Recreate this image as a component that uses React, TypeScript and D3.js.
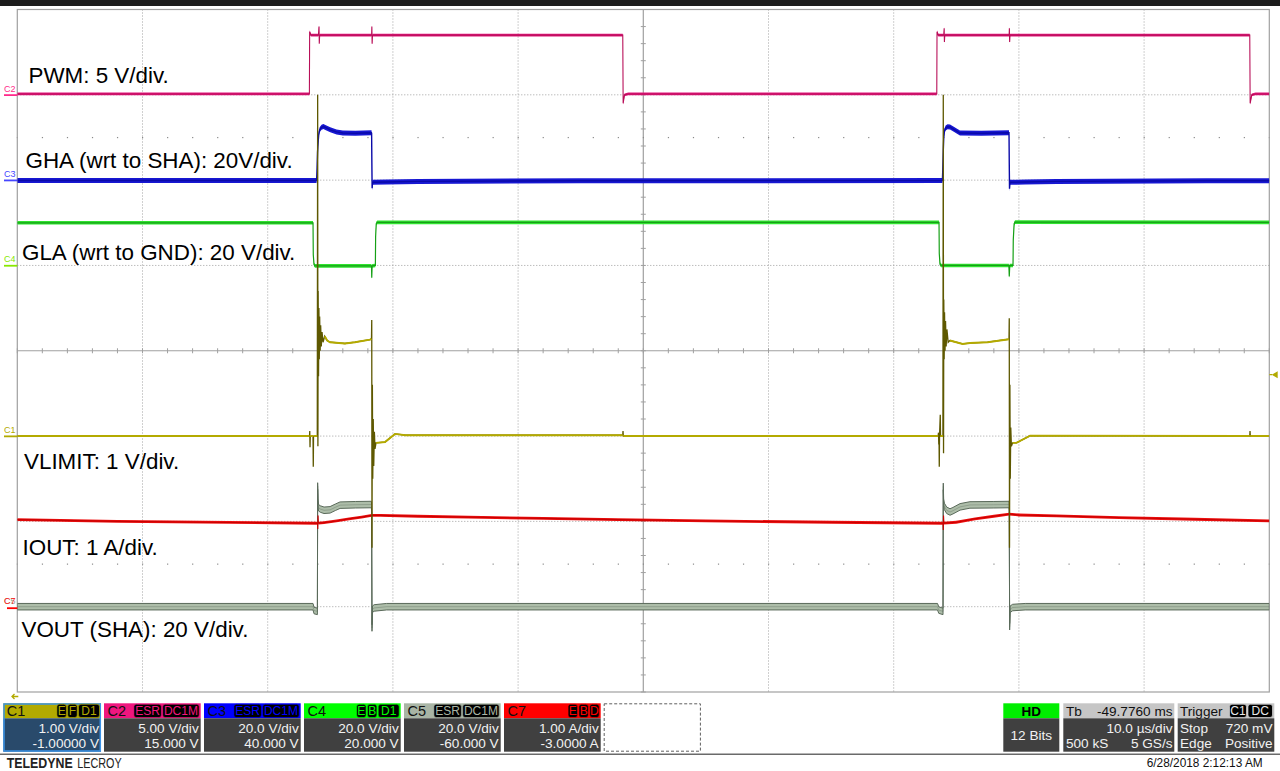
import React from 'react';
import * as d3 from 'd3';

type Pt = [number, number];

// ---------- acquisition settings (from the scope readout) ----------
const TIME_PER_DIV_US = 10;
const H_DIVS = 10;
const V_DIVS = 8;

// channel scale (V/div or A/div) and offset, per trace
const pwmScale = [5, 15];
const ghaScale = [20, 40];
const glaScale = [20, 20];
const vlimitScale = [1, -1];
const ioutScale = [1, -3];
const voutScale = [20, -60];

// ---------- waveform breakpoints: [time µs, value] ----------
const pwmPoints: Pt[] = [
  [0, 0.05], [23.33, 0.05], [23.35, 3.7], [23.45, 3.5], [24.05, 3.5], [24.1, 4.0], [24.12, 3.0], [24.15, 3.5],
  [28.3, 3.5], [28.32, 4.0], [28.34, 3.0], [28.37, 3.5], [48.36, 3.5], [48.39, -0.5], [48.5, 0.0], [48.8, 0.05],
  [73.44, 0.05], [73.46, 3.7], [73.56, 3.5], [74.0, 3.5], [74.03, 3.9], [74.05, 3.1], [74.08, 3.5],
  [79.22, 3.5], [79.24, 3.9], [79.26, 3.1], [79.29, 3.5], [98.44, 3.5], [98.47, -0.5], [98.6, 0.0], [98.9, 0.05], [100, 0.05],
];

const ghaPoints: Pt[] = [
  [0, -0.1], [23.9, -0.1], [23.93, 1.5], [23.98, 6.5], [24.03, 9.0], [24.08, 10.8], [24.15, 11.8], [24.3, 12.4],
  [24.45, 12.55], [24.65, 12.3], [25.0, 11.8], [25.5, 11.3], [26.0, 11.05], [27.0, 11.0], [28.28, 11.1],
  [28.3, 11.0], [28.32, 4.0], [28.34, -1.9], [28.38, -0.5], [29.5, -0.45], [32, -0.3], [45, -0.15],
  [73.89, -0.1], [73.92, 2.5], [73.96, 7.0], [74.0, 10.0], [74.05, 11.5], [74.15, 12.2], [74.3, 12.5],
  [74.5, 12.45], [74.8, 11.9], [75.29, 11.05], [77, 11.0], [79.21, 11.1], [79.23, 4.0], [79.25, -2.0],
  [79.29, -0.5], [80.5, -0.45], [83, -0.3], [95, -0.15], [100, -0.15],
];

const glaPoints: Pt[] = [
  [0, 10.0], [23.62, 10.0], [23.64, 2.5], [23.7, 0.2], [23.78, -0.1], [28.29, -0.1], [28.31, -2.9], [28.34, -0.1],
  [28.6, 0.0], [28.62, 6.8], [28.67, 9.8], [28.75, 10.1], [73.62, 10.1], [73.64, 2.8], [73.7, 0.3], [73.78, 0.0],
  [79.2, 0.0], [79.23, -2.6], [79.27, 0.0], [79.53, 0.0], [79.55, 6.0], [79.62, 9.8], [79.7, 10.15], [100, 10.1],
];

const vlimitPoints: Pt[] = [
  [0, 0.0], [23.34, 0.0], [23.36, 0.06], [23.38, -0.13], [23.4, 0.0], [23.62, 0.0], [23.64, -0.36], [23.66, 0.0],
  [23.96, 0.0], [23.99, 4.0], [24.01, -0.12], [24.03, 1.7], [24.06, 0.7], [24.09, 1.5], [24.12, 0.9], [24.15, 1.4],
  [24.19, 1.0], [24.23, 1.3], [24.28, 1.05], [24.34, 1.22], [24.42, 1.1], [24.55, 1.17], [24.75, 1.12], [24.98, 1.1],
  [26.17, 1.085], [26.97, 1.1], [28.17, 1.13], [28.29, 1.14], [28.31, 1.36], [28.33, -1.31], [28.36, 0.6],
  [28.39, -0.5], [28.43, 0.2], [28.47, -0.35], [28.52, 0.05], [28.57, -0.15], [28.65, -0.08], [29.37, -0.07],
  [30.17, 0.025], [31, 0.01], [48.36, 0.01], [48.38, 0.06], [48.4, 0.0], [73.55, 0.0], [73.58, 0.04], [73.6, -0.1],
  [73.62, 0.0], [73.64, -0.36], [73.66, 0.0], [73.72, 0.25], [73.74, 0.0], [73.93, 0.0], [73.96, 4.0], [73.98, -0.2],
  [74.0, 1.6], [74.03, 0.9], [74.06, 1.45], [74.1, 1.0], [74.14, 1.35], [74.19, 1.05], [74.25, 1.25], [74.35, 1.1],
  [74.49, 1.12], [75.5, 1.08], [76.09, 1.09], [77.5, 1.1], [79.21, 1.135], [79.23, 1.38], [79.25, -1.31],
  [79.28, 0.6], [79.31, -0.5], [79.35, 0.1], [79.4, -0.12], [79.5, -0.08], [79.8, -0.08], [80.9, 0.005],
  [98.44, 0.0], [98.46, 0.06], [98.48, 0.0], [100, 0.0],
];
// intervals (µs) where the VLIMIT trace is a fast burst (drawn darker)
const vlimitBursts: Pt[] = [
  [23.35, 23.395], [23.63, 23.65], [23.97, 24.5], [28.3, 28.6], [48.37, 48.39],
  [73.57, 73.61], [73.63, 73.65], [73.71, 73.73], [73.94, 74.4], [79.22, 79.45], [98.45, 98.47],
];

const ioutPoints: Pt[] = [
  [0, 1.02], [8, 1.0], [23.9, 0.978], [23.98, 0.98], [24.0, 0.91], [24.02, 1.07], [24.05, 0.98], [24.5, 0.985],
  [25.5, 1.005], [26.5, 1.03], [27.5, 1.05], [28.3, 1.07], [29, 1.07], [32, 1.06], [36, 1.05], [42, 1.035],
  [48, 1.02], [55, 1.005], [65, 0.99], [73.9, 0.978], [73.94, 0.98], [73.96, 0.9], [73.98, 1.07], [74.01, 0.98],
  [75, 0.99], [76.5, 1.03], [78, 1.06], [79.23, 1.086], [80, 1.075], [83, 1.065], [88, 1.045], [94, 1.025], [100, 1.005],
];

const voutPoints: Pt[] = [
  [0, 0.0], [23.62, 0.0], [23.7, -0.9], [23.97, -1.1], [23.99, 28.3], [24.02, 24.5], [24.06, 23.2], [24.2, 22.9],
  [24.5, 22.6], [24.98, 22.7], [25.4, 23.3], [25.78, 23.8], [27, 23.9], [28.28, 23.95], [28.3, 23.0], [28.33, -5.0],
  [28.37, -0.6], [28.5, -0.3], [29.5, 0.0], [73.5, 0.0], [73.6, -0.8], [73.94, -1.1], [73.96, 28.2], [73.99, 24.5],
  [74.05, 23.5], [74.23, 22.6], [74.5, 22.2], [74.73, 22.5], [75.3, 23.4], [76.09, 23.85], [78, 23.9], [79.21, 23.95],
  [79.23, 23.0], [79.26, -4.7], [79.3, -0.6], [79.5, -0.2], [80.5, 0.0], [100, 0.0],
];

// ---------- text ----------
const traceLabels = [
  'PWM: 5 V/div.',
  'GHA (wrt to SHA): 20V/div.',
  'GLA (wrt to GND): 20 V/div.',
  'VLIMIT: 1 V/div.',
  'IOUT: 1 A/div.',
  'VOUT (SHA): 20 V/div.',
];
const chanIds = ['C1', 'C2', 'C3', 'C4', 'C5', 'C7'];
const chanBadges = [['E', 'F', 'D1'], ['ESR', 'DC1M'], ['ESR', 'DC1M'], ['E', 'B', 'D1'], ['ESR', 'DC1M'], ['E', 'B', 'D']];
const chanScaleText = ['1.00 V/div', '5.00 V/div', '20.0 V/div', '20.0 V/div', '20.0 V/div', '1.00 A/div'];
const chanOffsetText = ['-1.00000 V', '15.000 V', '40.000 V', '20.000 V', '-60.000 V', '-3.0000 A'];
const tbText = ['Tb', '-49.7760 ms', '10.0 µs/div', '500 kS', '5 GS/s'];
const trigText = ['Trigger', 'C1', 'DC', 'Stop', '720 mV', 'Edge', 'Positive'];
const hdText = ['HD', '12 Bits'];
const brandText = ['TELEDYNE', 'LECROY'];
const dateText = '6/28/2018 2:12:13 AM';
const triggerLevelV = 0.72;

// ---------- layout / style ----------
const PLOT = { left: 17.3, right: 1269.3, top: 9.5, bottom: 692 };
const divW = (PLOT.right - PLOT.left) / H_DIVS;
const divH = (PLOT.bottom - PLOT.top) / V_DIVS;
const GRID = '#a0a0a0';
const FONT = "'Liberation Sans', Arial, Helvetica, sans-serif";
const chanColors = ['#b2aa00', '#f0167e', '#0000ff', '#00ff00', '#a9b5a5', '#ff0000'];

const xScale = d3.scaleLinear().domain([0, H_DIVS * TIME_PER_DIV_US]).range([PLOT.left, PLOT.right]);
const yFor = (s: number[]) =>
  d3.scaleLinear().domain([-s[1] - (V_DIVS / 2) * s[0], -s[1] + (V_DIVS / 2) * s[0]]).range([PLOT.bottom, PLOT.top]);

const yPwm = yFor(pwmScale);
const yGha = yFor(ghaScale);
const yGla = yFor(glaScale);
const yVl = yFor(vlimitScale);
const yIo = yFor(ioutScale);
const yVo = yFor(voutScale);

function Band({ pts, y, h, fill, stroke, sw, outline }: any) {
  const area = d3.area<Pt>().x((d) => xScale(d[0])).y0((d) => y(d[1]) + h / 2).y1((d) => y(d[1]) - h / 2);
  const line = d3.line<Pt>().x((d) => xScale(d[0])).y((d) => y(d[1]));
  return (
    <g>
      <path d={area(pts) || ''} fill={fill} stroke={outline ? stroke : 'none'} strokeWidth={outline ? 1 : 0} />
      {!outline && <path d={line(pts) || ''} fill="none" stroke={stroke} strokeWidth={sw} />}
      {outline && <path d={line(pts) || ''} fill="none" stroke={stroke} strokeWidth={0.6} opacity={0.6} />}
    </g>
  );
}

function Badge({ x, w, text, color }: any) {
  return (
    <g>
      <rect x={x} y={704.3} width={w} height={13.2} rx={2.5} fill="#000" stroke={color} strokeWidth={0.6} />
      <text x={x + w / 2} y={715.3} textAnchor="middle" fontSize={12} fill={color}>{text}</text>
    </g>
  );
}

export default function App() {
  const cx = xScale(50);
  const cy = PLOT.top + divH * 4;
  const line = d3.line<Pt>().x((d) => xScale(d[0])).y((d) => yVl(d[1]));
  const inBurst = (t: number) => vlimitBursts.some(([a, b]) => t > a && t < b);
  const quietLine = d3.line<Pt>().defined((d) => !inBurst(d[0])).x((d) => xScale(d[0])).y((d) => yVl(d[1]));

  const minorX = d3.range(0, H_DIVS * 5 + 1).map((k) => PLOT.left + (k * divW) / 5);
  const minorY = d3.range(0, V_DIVS * 5 + 1).map((k) => PLOT.top + (k * divH) / 5);

  const labelPos = [
    [28.5, 83], [25.5, 168], [22, 260], [24, 469], [22.5, 555], [21.5, 637],
  ];

  const markerDefs = [
    { t: 'C2', y: yPwm(0), c: '#ff2a8a' },
    { t: 'C3', y: yGha(0), c: '#4646ff' },
    { t: 'C4', y: yGla(0), c: '#88e800' },
    { t: 'C1', y: yVl(0), c: '#b2aa00' },
  ];

  const badgeW = (s: string) => (s.length === 1 ? 9.5 : s === 'D1' ? 21 : s === 'ESR' ? 27.5 : 36.5);

  return (
    <svg width={1280} height={771} style={{ position: 'absolute', left: 0, top: 0, background: '#fff' }} fontFamily={FONT}>
      <defs>
        <clipPath id="plotclip">
          <rect x={PLOT.left} y={PLOT.top} width={PLOT.right - PLOT.left} height={PLOT.bottom - PLOT.top} />
        </clipPath>
      </defs>
      <rect x={0} y={0} width={1280} height={771} fill="#fff" />
      <rect x={0} y={0} width={1280} height={6} fill="#1c1c1c" />

      {/* grid */}
      <g>
        {d3.range(1, H_DIVS).filter((k) => k !== 5).map((k) => (
          <line key={'v' + k} x1={xScale(k * TIME_PER_DIV_US)} x2={xScale(k * TIME_PER_DIV_US)} y1={PLOT.top} y2={PLOT.bottom}
            stroke={GRID} strokeWidth={1} strokeDasharray="1,2" />
        ))}
        {d3.range(1, V_DIVS).filter((k) => k !== 4).map((k) => (
          <line key={'h' + k} x1={PLOT.left} x2={PLOT.right} y1={PLOT.top + k * divH} y2={PLOT.top + k * divH}
            stroke={GRID} strokeWidth={1} strokeDasharray="1,2" />
        ))}
        <line x1={PLOT.left} x2={PLOT.right} y1={cy} y2={cy} stroke={GRID} strokeWidth={1.2} />
        <line x1={cx} x2={cx} y1={PLOT.top} y2={PLOT.bottom} stroke={GRID} strokeWidth={1.2} />
        {minorX.map((x, i) => (
          <line key={'tx' + i} x1={x} x2={x} y1={cy - 2.5} y2={cy + 2.5} stroke={GRID} strokeWidth={1} />
        ))}
        {minorY.map((y, i) => (
          <line key={'ty' + i} x1={cx - 2.5} x2={cx + 2.5} y1={y} y2={y} stroke={GRID} strokeWidth={1} />
        ))}
        {[1.5, 6.5].map((r) =>
          minorX.map((x, i) => (
            <rect key={'d' + r + i} x={x - 0.5} y={PLOT.top + r * divH - 0.5} width={1.2} height={1.2} fill="#8a8a8a" />
          ))
        )}
        <rect x={PLOT.left} y={PLOT.top} width={PLOT.right - PLOT.left} height={PLOT.bottom - PLOT.top}
          fill="none" stroke={GRID} strokeWidth={1.2} />
      </g>

      {/* labels */}
      {traceLabels.map((s, i) => (
        <text key={s} x={labelPos[i][0]} y={labelPos[i][1]} fontSize={22.4} fill="#000">{s}</text>
      ))}

      {/* traces */}
      <g clipPath="url(#plotclip)">
        <Band pts={pwmPoints} y={yPwm} h={2.8} fill="#e3177c" stroke="#b80f58" sw={1.1} />
        <Band pts={ghaPoints} y={yGha} h={5} fill="#1717d2" stroke="#0a0aa8" sw={1.4} />
        <Band pts={glaPoints} y={yGla} h={3.6} fill="#30e430" stroke="#16a016" sw={1.2} />
        <Band pts={voutPoints} y={yVo} h={6.5} fill="#adbda9" stroke="#5a6a5a" outline />
        <Band pts={ioutPoints} y={yIo} h={2.8} fill="#ee1010" stroke="#c80000" sw={1.1} />
        <path d={line(vlimitPoints) || ''} fill="none" stroke="#5e5800" strokeWidth={1.3} />
        <path d={quietLine(vlimitPoints) || ''} fill="none" stroke="#b4aa00" strokeWidth={1.9} />
      </g>

      {/* left channel markers */}
      {markerDefs.map((m) => (
        <g key={m.t}>
          <text x={4} y={m.y - 3} fontSize={9} fill={m.c}>{m.t}</text>
          <line x1={4} x2={PLOT.left} y1={m.y + 0.3} y2={m.y + 0.3} stroke={m.c} strokeWidth={1.8} />
        </g>
      ))}
      <g>
        <text x={4} y={yVo(0) - 2.5} fontSize={9} fill="#9aa89a">C5</text>
        <text x={4} y={yVo(0) - 2.5} fontSize={9} fill="#ff1a1a">C7</text>
        <line x1={7} x2={PLOT.left} y1={yVo(0) + 1.5} y2={yVo(0) + 1.5} stroke="#ff0000" strokeWidth={1.8} />
      </g>

      {/* bottom-left arrow */}
      <path d="M18.3,696.5 L12,696.5 M14.5,694 L12,696.5 L14.5,699" fill="none" stroke="#b2aa00" strokeWidth={1.3} />

      {/* trigger level marker */}
      <g>
        <line x1={PLOT.right} x2={1272} y1={yVl(triggerLevelV)} y2={yVl(triggerLevelV)} stroke="#b2aa00" strokeWidth={1.2} />
        <path d={`M1271.7,${yVl(triggerLevelV)} L1277.7,${yVl(triggerLevelV) - 3.5} L1277.7,${yVl(triggerLevelV) + 3.5} Z`} fill="#b2aa00" />
      </g>

      {/* channel readout boxes */}
      {chanIds.map((id, i) => {
        const x0 = i === 0 ? 3.3 : 4 + 100 * i;
        const w = i === 0 ? 97.7 : 96.7;
        const col = chanColors[i];
        let bx = x0 + w - 1.5;
        const badges = chanBadges[i].slice().reverse().map((b) => {
          const bw = badgeW(b);
          bx -= bw;
          const el = <Badge key={b + i} x={bx} w={bw} text={b} color={col} />;
          bx -= 1.3;
          return el;
        });
        return (
          <g key={id}>
            <rect x={x0} y={703.3} width={w} height={15} fill={col} />
            <rect x={x0} y={718.3} width={w} height={33.4} fill={i === 0 ? '#294a6b' : '#404040'} />
            {i === 0 && (
              <rect x={x0 + 0.7} y={704} width={w - 1.4} height={47} fill="none" stroke="#3a92e6" strokeWidth={1.5} />
            )}
            <text x={x0 + 3.5} y={716.2} fontSize={14.5} fill="#111">{id}</text>
            {badges}
            <text x={x0 + w - 2} y={732.6} fontSize={13.6} fill="#f2f2f2" textAnchor="end">{chanScaleText[i]}</text>
            <text x={x0 + w - 2} y={748.3} fontSize={13.6} fill="#f2f2f2" textAnchor="end">{chanOffsetText[i]}</text>
          </g>
        );
      })}
      <rect x={604.2} y={703.8} width={96.2} height={47.4} fill="none" stroke="#606060" strokeWidth={1} strokeDasharray="3,2" />

      {/* HD box */}
      <g>
        <rect x={1003.3} y={703.3} width={56} height={15} fill="#00ee00" />
        <rect x={1003.3} y={718.3} width={56} height={33.4} fill="#404040" />
        <text x={1031.3} y={715.8} fontSize={13.5} fontWeight="bold" textAnchor="middle" fill="#000">{hdText[0]}</text>
        <text x={1031.3} y={740} fontSize={13.6} textAnchor="middle" fill="#f2f2f2">{hdText[1]}</text>
      </g>
      {/* Timebase box */}
      <g>
        <rect x={1063.3} y={703.3} width={111} height={15} fill="#c6c6c6" />
        <rect x={1063.3} y={718.3} width={111} height={33.4} fill="#404040" />
        <text x={1066} y={716} fontSize={13.6} fill="#111">{tbText[0]}</text>
        <text x={1172.5} y={716} fontSize={13.6} fill="#111" textAnchor="end">{tbText[1]}</text>
        <text x={1172.5} y={732.6} fontSize={13.6} fill="#f2f2f2" textAnchor="end">{tbText[2]}</text>
        <text x={1066} y={748.3} fontSize={13.6} fill="#f2f2f2">{tbText[3]}</text>
        <text x={1172.5} y={748.3} fontSize={13.6} fill="#f2f2f2" textAnchor="end">{tbText[4]}</text>
      </g>
      {/* Trigger box */}
      <g>
        <rect x={1177.7} y={703.3} width={96.6} height={15} fill="#c6c6c6" />
        <rect x={1177.7} y={718.3} width={96.6} height={33.4} fill="#404040" />
        <text x={1180} y={716} fontSize={13.6} fill="#111">{trigText[0]}</text>
        <Badge x={1229.5} w={17} text={trigText[1]} color="#e8e8e8" />
        <Badge x={1248} w={24.5} text={trigText[2]} color="#e8e8e8" />
        <text x={1180} y={732.6} fontSize={13.6} fill="#f2f2f2">{trigText[3]}</text>
        <text x={1272.5} y={732.6} fontSize={13.6} fill="#f2f2f2" textAnchor="end">{trigText[4]}</text>
        <text x={1180} y={748.3} fontSize={13.6} fill="#f2f2f2">{trigText[5]}</text>
        <text x={1272.5} y={748.3} fontSize={13.6} fill="#f2f2f2" textAnchor="end">{trigText[6]}</text>
      </g>

      {/* footer */}
      <line x1={0} x2={1280} y1={754.3} y2={754.3} stroke="#6a6a6a" strokeWidth={1.5} />
      <text x={6.7} y={767.8} fontSize={13.8} fontWeight="bold" fill="#222" textLength={66} lengthAdjust="spacingAndGlyphs">
        {brandText[0]}
      </text>
      <text x={77.3} y={767.8} fontSize={13.8} fill="#222" textLength={44.4} lengthAdjust="spacingAndGlyphs">
        {brandText[1]}
      </text>
      <text x={1146.7} y={767.3} fontSize={13.5} fill="#111" textLength={116} lengthAdjust="spacingAndGlyphs">
        {dateText}
      </text>
    </svg>
  );
}
